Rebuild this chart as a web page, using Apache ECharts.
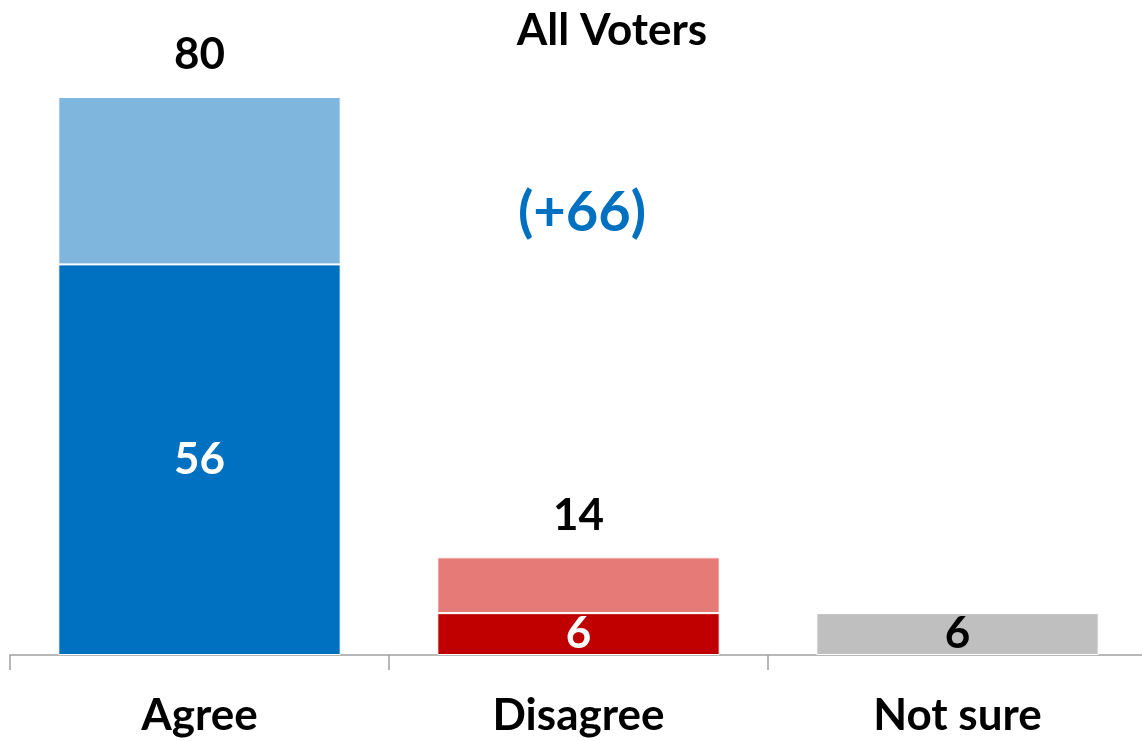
<!DOCTYPE html>
<html>
<head>
<meta charset="utf-8">
<script src="https://cdn.jsdelivr.net/npm/echarts@6/dist/echarts.min.js"></script>
<style>
  html, body { margin: 0; padding: 0; background: #fff; }
  #chart { width: 1142px; height: 741px; }
</style>
</head>
<body>
<div id="chart"></div>
<script>
// Survey result: share of all voters who agree / disagree / are not sure
const categories = ['Agree', 'Disagree', 'Not sure'];
const strongValues = [56, 6, 6];      // "strongly" share (bottom segment)
const somewhatValues = [24, 8, null]; // "somewhat" share (top segment)
const strongColors = ['#0070C0', '#C00000', '#BFBFBF'];
const somewhatColors = ['#7FB6DE', '#E57A77', '#BFBFBF'];
const strongLabelColors = ['#FFFFFF', '#FFFFFF', '#000000'];
const titleText = 'All Voters';

const totals = strongValues.map((v, i) => v + (somewhatValues[i] || 0));
const net = totals[0] - totals[1];

const FONT = 'Lato';
const SIZE = 44;

const chart = echarts.init(document.getElementById('chart'), null, { renderer: 'canvas' });

chart.setOption({
  animation: false,
  title: [
    {
      text: titleText,
      left: 607, top: 4, textAlign: 'center',
      textStyle: { fontFamily: FONT, fontWeight: 'bold', fontSize: SIZE, color: '#000' }
    },
    {
      text: '(+' + net + ')',
      left: 577, top: 180, textAlign: 'center',
      textStyle: { fontFamily: FONT, fontWeight: 'bold', fontSize: 56, color: '#0070C0' }
    }
  ],
  grid: { left: 10, right: -5, top: 97, bottom: 86, outerBoundsMode: 'none' },
  xAxis: {
    type: 'category',
    data: categories,
    axisLine: { lineStyle: { color: '#A0A0A0', width: 1.5 } },
    axisTick: { show: true, length: 15, lineStyle: { color: '#A0A0A0', width: 1.5 } },
    axisLabel: {
      fontFamily: FONT, fontWeight: 'bold', fontSize: SIZE, color: '#000', margin: 39
    }
  },
  yAxis: {
    type: 'value', min: 0, max: 80, show: false,
    splitLine: { show: false }
  },
  series: [
    {
      type: 'bar', stack: 'all', barCategoryGap: '25.5%',
      data: strongValues.map((v, i) => ({
        value: v,
        itemStyle: { color: strongColors[i] },
        label: { color: strongLabelColors[i] }
      })),
      itemStyle: { borderColor: '#fff', borderWidth: 1 },
      label: {
        show: true, position: 'inside',
        fontFamily: FONT, fontWeight: 'bold', fontSize: SIZE
      }
    },
    {
      type: 'bar', stack: 'all', barCategoryGap: '25.5%',
      data: somewhatValues.map((v, i) => ({
        value: v == null ? '-' : v,
        itemStyle: { color: somewhatColors[i] }
      })),
      itemStyle: { borderColor: '#fff', borderWidth: 1 },
      label: {
        show: true, position: 'top', distance: 20,
        fontFamily: FONT, fontWeight: 'bold', fontSize: SIZE, color: '#000',
        formatter: p => totals[p.dataIndex]
      }
    }
  ]
});
</script>
</body>
</html>
